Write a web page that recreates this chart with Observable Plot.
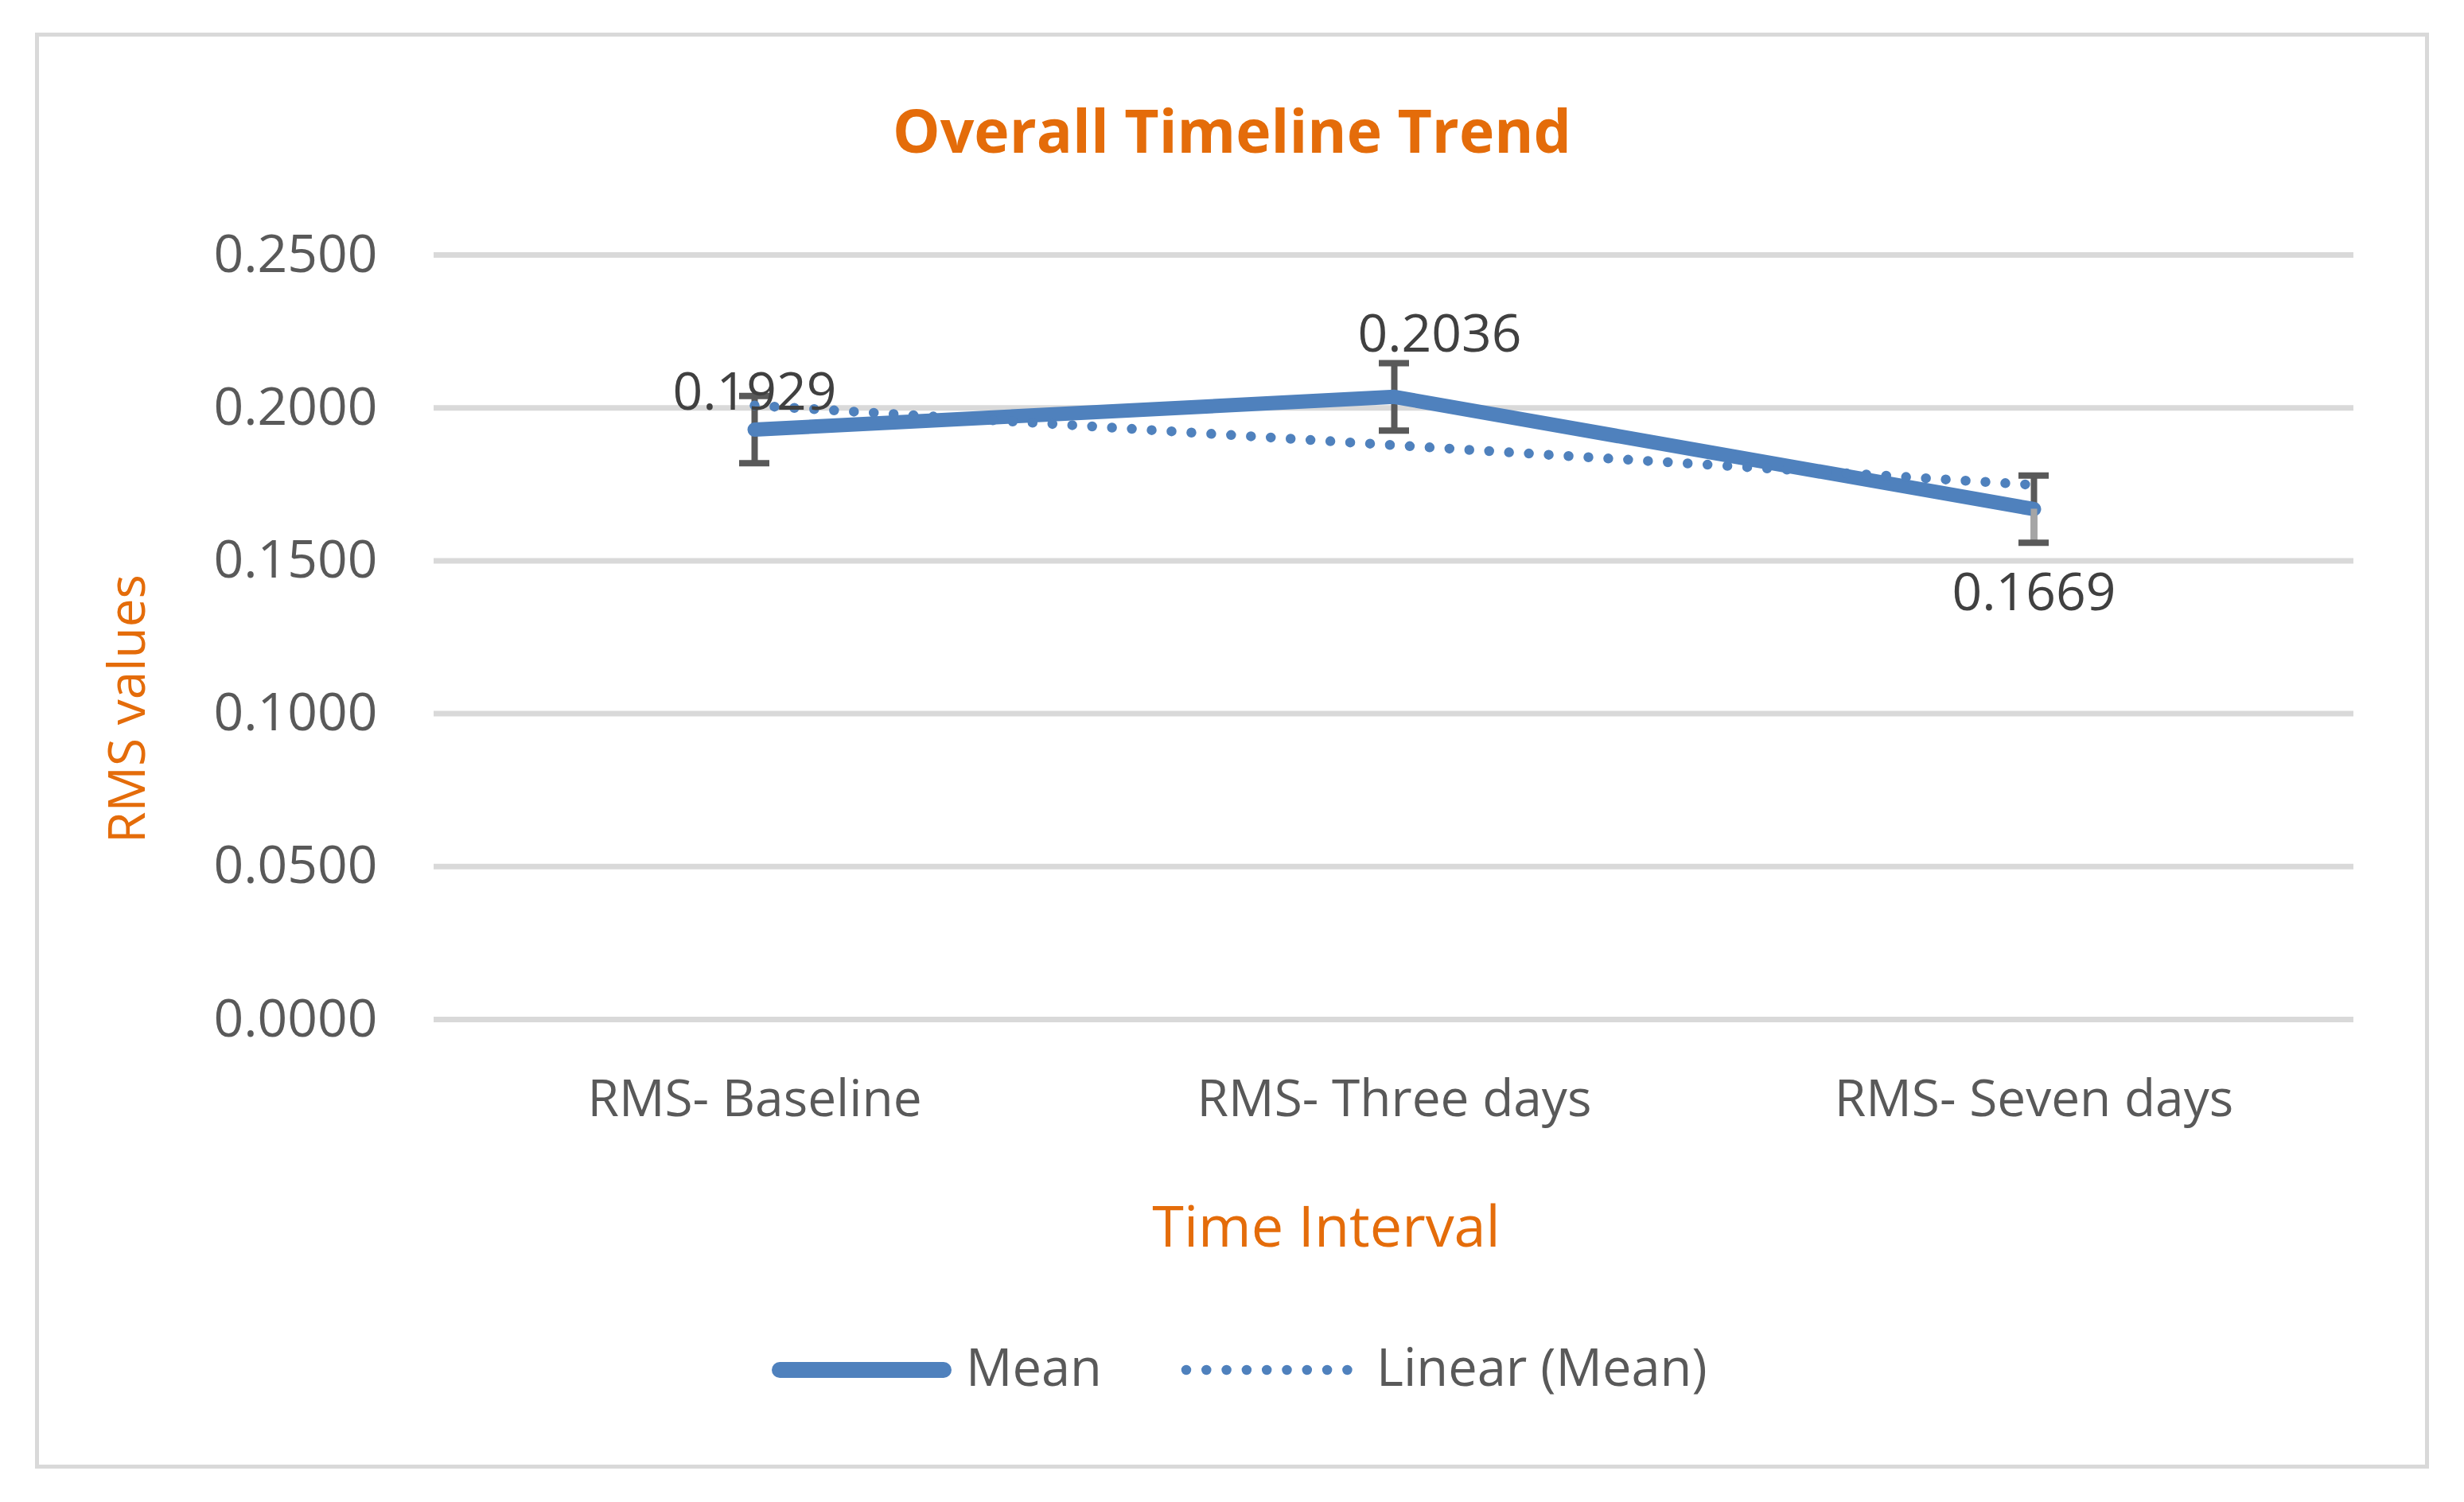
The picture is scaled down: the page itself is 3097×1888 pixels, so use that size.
<!DOCTYPE html>
<html>
<head>
<meta charset="utf-8">
<script src="https://cdn.jsdelivr.net/npm/d3@7"></script>
<script src="https://cdn.jsdelivr.net/npm/@observablehq/plot@0.6"></script>
<style>
  html, body { margin: 0; padding: 0; background: #ffffff; }
  #page { position: relative; width: 3097px; height: 1888px; overflow: hidden; font-family: "Open Sans", sans-serif; }
  #frame { position: absolute; left: 44px; top: 41px; width: 3009px; height: 1805px; box-sizing: border-box; border: 5px solid #d9d9d9; }
  .txt { position: absolute; line-height: 1; white-space: nowrap; }
  #title { left: 0; width: 3097px; text-align: center; top: 126px; font-size: 75px; font-weight: 700; color: #e46c0a; }
  #xtitle { left: 1167px; width: 1000px; text-align: center; top: 1503px; font-size: 72px; color: #e46c0a; }
  #chart { position: absolute; left: 0; top: 220px; }
  .legtxt { font-size: 65px; color: #595959; top: 1685px; }
  .sw { position: absolute; top: 1702px; }
</style>
</head>
<body>
<div id="page">
  <div id="frame"></div>
  <div id="title" class="txt">Overall Timeline Trend</div>
  <div id="chart"></div>
  <div id="xtitle" class="txt">Time Interval</div>
  <svg class="sw" style="left:960px" width="250" height="40"><line x1="20" x2="226" y1="20" y2="20" stroke="#4f81bd" stroke-width="20" stroke-linecap="round"/></svg>
  <div class="txt legtxt" id="leg1" style="left:1214px"></div>
  <svg class="sw" style="left:1470px" width="250" height="40"><line x1="21" x2="224" y1="20" y2="20" stroke="#4f81bd" stroke-width="12.5" stroke-linecap="round" stroke-dasharray="0 25.3"/></svg>
  <div class="txt legtxt" id="leg2" style="left:1730px"></div>
</div>
<script>
const categories = ["RMS- Baseline", "RMS- Three days", "RMS- Seven days"];
const meanValues = [0.1929, 0.2036, 0.1669];
const errorValues = [0.011, 0.011, 0.011];
const trendValues = [0.2008, 0.1878, 0.1748];
const yTicks = [0, 0.05, 0.10, 0.15, 0.20, 0.25];
const seriesNames = ["Mean", "Linear (Mean)"];

document.getElementById("leg1").textContent = seriesNames[0];
document.getElementById("leg2").textContent = seriesNames[1];

const fmt = d3.format(".4f");
const rows = categories.map((c, i) => ({
  category: c,
  mean: meanValues[i],
  trend: trendValues[i],
  lo: meanValues[i] - errorValues[i],
  hi: meanValues[i] + errorValues[i],
  idx: i
}));

const blue = "#4f81bd";
const errColor = "#595959";

const chart = Plot.plot({
  width: 3097,
  height: 1211,
  marginTop: 100,
  marginBottom: 150,
  marginLeft: 545,
  marginRight: 139,
  style: { fontFamily: "Open Sans", background: "transparent", overflow: "visible" },
  x: { type: "band", domain: categories, padding: 0, label: null },
  y: { domain: [0, 0.25], label: null },
  marks: [
    Plot.gridY(yTicks, { stroke: "#d9d9d9", strokeOpacity: 1, strokeWidth: 7 }),
    Plot.axisY(yTicks, { tickSize: 0, tickPadding: 71, tickFormat: fmt, fontSize: 66, fill: "#595959", label: null }),
    Plot.axisX({ tickSize: 0, tickPadding: 76, fontSize: 64, fill: "#595959", label: null }),
    Plot.ruleX(rows, { x: "category", y1: "lo", y2: "hi", stroke: errColor, strokeWidth: 8 }),
    Plot.line(rows, { x: "category", y: "mean", stroke: blue, strokeWidth: 18, strokeLinecap: "round", strokeLinejoin: "round" }),
    Plot.line(rows, { x: "category", y: "trend", stroke: blue, strokeWidth: 12.5, strokeLinecap: "round", strokeDasharray: "0 25" }),
    Plot.ruleX(rows.filter(d => d.idx === 2), { x: "category", y1: "lo", y2: "mean", stroke: "#a5a5a5", strokeWidth: 8 }),
    Plot.tickY(rows, { x: "category", y: "lo", stroke: errColor, strokeWidth: 8, insetLeft: 383, insetRight: 383 }),
    Plot.tickY(rows, { x: "category", y: "hi", stroke: errColor, strokeWidth: 8, insetLeft: 383, insetRight: 383 }),
    Plot.text(rows.filter(d => d.idx === 0), { x: "category", y: "mean", text: d => fmt(d.mean), lineAnchor: "bottom", dy: -25, fontSize: 66, fill: "#404040" }),
    Plot.text(rows.filter(d => d.idx === 1), { x: "category", y: "mean", text: d => fmt(d.mean), lineAnchor: "bottom", dx: 57, dy: -57, fontSize: 66, fill: "#404040" }),
    Plot.text(rows.filter(d => d.idx === 2), { x: "category", y: "mean", text: d => fmt(d.mean), lineAnchor: "top", dy: 80, fontSize: 66, fill: "#404040" }),
    Plot.text(["RMS values"], { text: d => d, frameAnchor: "left", rotate: -90, textAnchor: "middle", lineAnchor: "bottom", dx: -364, dy: 90, fontSize: 64, fill: "#e46c0a" })
  ]
});
document.getElementById("chart").appendChild(chart);
</script>
</body>
</html>
